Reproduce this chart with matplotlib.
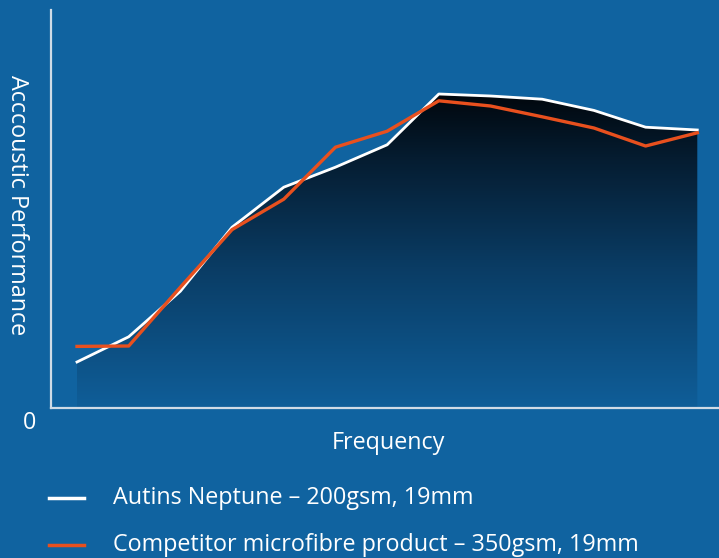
import numpy as np
import matplotlib.pyplot as plt
from matplotlib.colors import LinearSegmentedColormap
from matplotlib.lines import Line2D

# frequency bands (evenly spaced, unlabelled) and performance readings
bands = list(range(13))
neptune = [11.5, 17.8, 29.2, 45.2, 55.2, 60.2, 65.8, 78.5, 78.0, 77.2, 74.4, 70.2, 69.5]
competitor = [15.4, 15.5, 30.2, 44.6, 52.2, 65.2, 69.2, 76.8, 75.5, 72.8, 70.0, 65.5, 68.8]

neptune_label = "Autins Neptune – 200gsm, 19mm"
competitor_label = "Competitor microfibre product – 350gsm, 19mm"

bg = "#1063a0"
orange = "#e8501e"
spine_col = "#cfdbe6"

plt.rcParams['font.family'] = ['Open Sans', 'DejaVu Sans']
fs = 16.8

fig = plt.figure(figsize=(7.19, 5.58), dpi=100, facecolor=bg)
ax = fig.add_axes([51 / 719, 150 / 558, 668 / 719, 398 / 558])
ax.set_facecolor(bg)

# gradient fill under the Neptune curve
grad_cmap = LinearSegmentedColormap.from_list(
    "depth", [(0.0, "#0f5e99"), (0.45, "#0a3c64"), (0.8, "#051c30"), (1.0, "#01070d")])
top = max(neptune)
grad = np.linspace(0, 1, 256).reshape(-1, 1)
img = ax.imshow(grad, cmap=grad_cmap, origin="lower", aspect="auto",
                extent=[bands[0], bands[-1], 0, top], zorder=1)
poly = ax.fill_between(bands, 0, neptune, facecolor="none", edgecolor="none")
img.set_clip_path(poly.get_paths()[0], transform=ax.transData)
ax.set_xlim(-0.503, 12.42)
ax.set_ylim(0, 99.5)

ax.plot(bands, neptune, color="white", lw=2, zorder=3, solid_joinstyle="round")
ax.plot(bands, competitor, color=orange, lw=2.4, zorder=4, solid_joinstyle="round")

for side in ["top", "right"]:
    ax.spines[side].set_visible(False)
for side in ["left", "bottom"]:
    ax.spines[side].set_color(spine_col)
    ax.spines[side].set_linewidth(1.6)
ax.set_xticks([])
ax.set_yticks([])

fig.text(30 / 719, 1 - 423 / 558, "0", color="white", fontsize=fs,
         ha="center", va="center")
fig.text(17 / 719, 1 - 205 / 558, "Acccoustic Performance", color="white",
         fontsize=fs, rotation=270, ha="center", va="center")
fig.text(388 / 719, 1 - 443 / 558, "Frequency", color="white", fontsize=fs,
         ha="center", va="center")

# legend drawn by hand below the chart
for y_px, col, label in [(498, "white", neptune_label), (545, orange, competitor_label)]:
    yf = 1 - y_px / 558
    fig.add_artist(Line2D([49 / 719, 84 / 719], [yf, yf], color=col, lw=2.5,
                          transform=fig.transFigure))
    fig.text(113 / 719, yf, label, color="white", fontsize=fs,
             ha="left", va="center")

fig.savefig("out.png", dpi=100, facecolor=bg)
